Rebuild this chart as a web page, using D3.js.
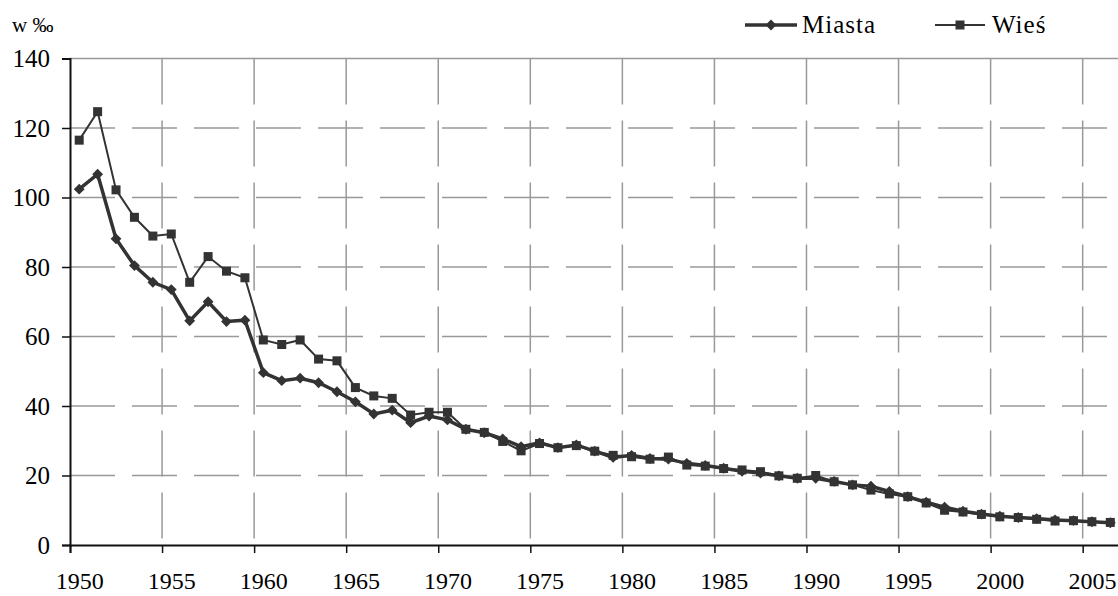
<!DOCTYPE html>
<html>
<head>
<meta charset="utf-8">
<script src="https://cdn.jsdelivr.net/npm/d3@7"></script>
<style>
  body { margin: 0; background: #fff; }
  svg { display: block; }
</style>
</head>
<body>
<div id="chart"></div>
<script>
const years = d3.range(1950, 2007)
const miasta = [102.4, 106.7, 88.1, 80.4, 75.6, 73.5, 64.5, 70.0, 64.3, 64.7,
  49.6, 47.3, 48.0, 46.7, 44.1, 41.2, 37.7, 38.8, 35.2, 37.1,
  36.0, 33.3, 32.3, 30.5, 28.3, 29.4, 28.0, 28.8, 27.0, 25.2,
  25.8, 24.9, 24.7, 23.5, 22.9, 22.1, 21.2, 20.7, 19.9, 19.2,
  19.2, 18.3, 17.3, 16.9, 15.4, 13.9, 12.3, 10.9, 9.7, 8.9,
  8.3, 7.9, 7.6, 7.2, 7.0, 6.7, 6.4]
const wies = [116.5, 124.7, 102.2, 94.3, 88.9, 89.5, 75.6, 83.0, 78.8, 76.9,
  59.0, 57.7, 59.0, 53.5, 53.0, 45.3, 42.9, 42.2, 37.4, 38.2,
  38.2, 33.3, 32.4, 29.8, 27.1, 29.2, 28.0, 28.6, 27.0, 25.8,
  25.4, 24.7, 25.3, 23.0, 22.7, 22.0, 21.6, 21.1, 19.9, 19.2,
  20.0, 18.2, 17.3, 15.8, 14.7, 13.9, 12.1, 10.0, 9.5, 8.8,
  8.1, 7.9, 7.4, 6.9, 7.0, 6.7, 6.5]
const yTicks = [0, 20, 40, 60, 80, 100, 120, 140]
const xTicks = [1950, 1955, 1960, 1965, 1970, 1975, 1980, 1985, 1990, 1995, 2000, 2005]

const W = 1118, H = 596
const plot = {left: 70, top: 58.5, bottom: 545, right: 1119.5}
const lineColor = '#333'
const serif = 'Liberation Serif'

const svg = d3.select('#chart').append('svg')
  .attr('width', W).attr('height', H)

const x = d3.scaleLinear().domain([1950, 2007]).range([plot.left, plot.right])
const y = d3.scaleLinear().domain([0, 140]).range([plot.bottom, plot.top])

// grid
svg.append('g').selectAll('line')
  .data(yTicks.filter(d => d > 0))
  .join('line')
  .attr('x1', plot.left).attr('x2', plot.right)
  .attr('y1', d => y(d)).attr('y2', d => y(d))
  .attr('stroke', '#999').attr('stroke-width', 1.5)
  .attr('stroke-dasharray', d => d === 140 ? null : '45,17')

svg.append('g').selectAll('line')
  .data(xTicks.filter(d => d > 1950))
  .join('line')
  .attr('x1', d => x(d)).attr('x2', d => x(d))
  .attr('y1', plot.top).attr('y2', plot.bottom)
  .attr('stroke', '#999').attr('stroke-width', 1.5)
  .attr('stroke-dasharray', '46,16')

// axes
const yAxis = svg.append('g')
  .attr('transform', `translate(${plot.left},0)`)
  .call(d3.axisLeft(y).tickValues(yTicks).tickSize(8).tickPadding(12))
const xAxis = svg.append('g')
  .attr('transform', `translate(0,${plot.bottom})`)
  .call(d3.axisBottom(x).tickValues(xTicks).tickSize(8).tickFormat(d3.format('d')).tickPadding(19))
;[yAxis, xAxis].forEach(a => {
  a.attr('font-family', serif).attr('font-size', 25)
  a.select('.domain').attr('stroke', '#111').attr('stroke-width', 2)
  a.selectAll('.tick line').attr('stroke', '#111').attr('stroke-width', 1.5)
  a.selectAll('text').attr('fill', '#000')
})
xAxis.attr('font-size', 24)
xAxis.selectAll('.tick text').attr('x', x(1950.5) - x(1950))

// series
const line = d3.line().x((d, i) => x(years[i] + 0.5)).y(d => y(d))

svg.append('path').datum(wies)
  .attr('d', line).attr('fill', 'none')
  .attr('stroke', lineColor).attr('stroke-width', 2)
svg.append('g').selectAll('rect').data(wies).join('rect')
  .attr('x', (d, i) => x(years[i] + 0.5) - 4.5)
  .attr('y', d => y(d) - 4.5)
  .attr('width', 9).attr('height', 9)
  .attr('fill', lineColor)

const diamond = d3.symbol().type(d3.symbolDiamond2).size(75)
svg.append('path').datum(miasta)
  .attr('d', line).attr('fill', 'none')
  .attr('stroke', lineColor).attr('stroke-width', 3.5)
svg.append('g').selectAll('path').data(miasta).join('path')
  .attr('d', diamond)
  .attr('transform', (d, i) => `translate(${x(years[i] + 0.5)},${y(d)})`)
  .attr('fill', lineColor)

// y label
svg.append('text')
  .attr('x', 12).attr('y', 32)
  .attr('font-family', serif).attr('font-size', 21)
  .text('w ‰')

// legend
const legend = svg.append('g').attr('font-family', serif)
legend.append('line').attr('x1', 745).attr('x2', 797).attr('y1', 25).attr('y2', 25)
  .attr('stroke', lineColor).attr('stroke-width', 3.5)
legend.append('path').attr('d', diamond)
  .attr('transform', 'translate(771,25)').attr('fill', lineColor)
legend.append('text').attr('x', 802).attr('y', 33)
  .attr('font-size', 25).attr('letter-spacing', 1).text('Miasta')

legend.append('line').attr('x1', 935).attr('x2', 985).attr('y1', 25).attr('y2', 25)
  .attr('stroke', lineColor).attr('stroke-width', 2)
legend.append('rect').attr('x', 955.5).attr('y', 20.5).attr('width', 9).attr('height', 9)
  .attr('fill', lineColor)
legend.append('text').attr('x', 992).attr('y', 33)
  .attr('font-size', 25).attr('letter-spacing', 1).text('Wieś')
</script>
</body>
</html>
